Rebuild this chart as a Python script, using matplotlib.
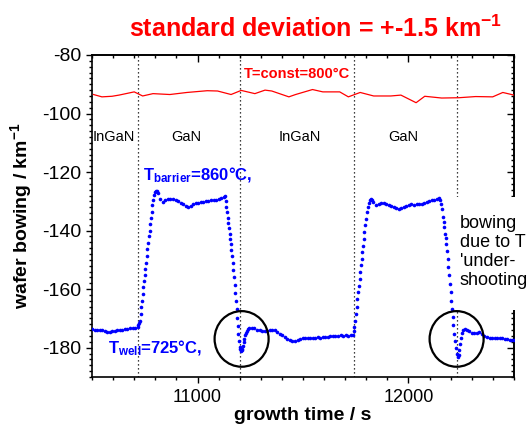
import matplotlib
matplotlib.use("Agg")

import matplotlib.pyplot as plt
import numpy as np
from matplotlib.patches import Ellipse, Rectangle
from matplotlib.ticker import MultipleLocator, NullFormatter

plt.rcParams["font.family"] = ["Liberation Sans", "DejaVu Sans"]
plt.rcParams["axes.unicode_minus"] = False
plt.rcParams["mathtext.fontset"] = "custom"
plt.rcParams["mathtext.rm"] = "Liberation Sans"
plt.rcParams["mathtext.bf"] = "Liberation Sans:bold"
plt.rcParams["mathtext.it"] = "Liberation Sans:italic"

BLUE = "#0000ff"
RED = "#ff0000"
XLIM = (10500, 12500)
YLIM = (-190, -80)

# constant temperature run (red)
RED_T = [10507, 10547, 10595, 10628, 10700, 10740, 10789, 10869, 10950, 11046,
         11095, 11159, 11207, 11272, 11320, 11352, 11433, 11465, 11545, 11594,
         11674, 11715, 11771, 11835, 11916, 11964, 12036, 12077, 12157, 12238,
         12318, 12399, 12447, 12500]
RED_V = [-93.5, -94.3, -94.1, -93.7, -92.6, -94.0, -93.2, -93.5, -92.8, -92.2,
         -92.3, -93.5, -92.1, -93.2, -92.0, -92.3, -94.3, -93.5, -91.8, -92.6,
         -92.6, -94.3, -92.8, -94.0, -94.0, -93.7, -96.3, -94.1, -94.7, -94.6,
         -94.2, -94.3, -92.8, -93.7]

# temperature switched run (blue), read segment by segment
WELL_1 = [(10500, -173.7), (10512, -173.8), (10524, -173.9), (10536, -174.0), (10548, -174.1),
          (10560, -174.3), (10572, -174.5), (10584, -174.6), (10596, -174.4), (10608, -174.3),
          (10620, -174.1), (10632, -173.9), (10644, -173.8), (10656, -173.6), (10668, -173.5),
          (10680, -173.4), (10692, -173.3), (10704, -173.1)]
RISE_1 = [(10716, -172.9), (10720, -172.3), (10724, -171.4), (10727, -170.8), (10731, -168.5),
          (10734, -166.2), (10737, -163.9), (10740, -161.6), (10743, -159.3), (10746, -157.1),
          (10750, -155.2), (10753, -153.1), (10756, -150.9), (10760, -148.5), (10763, -146.3),
          (10766, -144.1), (10770, -142.0), (10773, -140.2), (10776, -137.9), (10779, -135.6),
          (10782, -133.5), (10786, -131.3), (10790, -129.4), (10794, -127.8), (10798, -126.9),
          (10802, -126.5), (10806, -126.6)]
BARRIER_1 = [(10812, -127.3), (10824, -129.2), (10836, -130.1), (10848, -129.5), (10860, -129.1),
             (10872, -129.2), (10884, -129.1), (10896, -129.4), (10908, -129.8), (10920, -130.4),
             (10932, -131.0), (10944, -131.6), (10956, -131.9), (10968, -131.5), (10980, -131.0),
             (10992, -130.7), (11004, -130.4), (11016, -130.2), (11028, -130.1), (11040, -129.9),
             (11052, -129.8), (11064, -129.7), (11076, -129.6), (11088, -129.5), (11100, -129.3),
             (11112, -129.0), (11124, -128.4)]
FALL_1 = [(11130, -128.0), (11134, -130.0), (11137, -131.9), (11140, -133.8), (11143, -135.8),
          (11146, -137.5), (11149, -139.2), (11152, -141.0), (11155, -142.8), (11158, -144.6),
          (11161, -146.6), (11164, -148.8), (11167, -151.2), (11170, -153.6), (11173, -156.0),
          (11176, -158.5), (11179, -161.3), (11182, -164.0), (11185, -166.9), (11188, -169.8),
          (11191, -172.6), (11194, -175.3), (11197, -177.8), (11200, -179.6), (11203, -180.6),
          (11206, -181.0), (11209, -180.9), (11212, -180.3), (11215, -179.3), (11218, -178.1),
          (11221, -176.9), (11225, -175.7), (11229, -174.9), (11234, -174.2), (11240, -173.7)]
WELL_2 = [(11246, -173.2), (11258, -173.1), (11270, -173.4), (11282, -173.8), (11294, -174.1),
          (11306, -174.2), (11318, -174.3), (11330, -174.3), (11342, -174.1), (11354, -173.9),
          (11366, -174.1), (11378, -174.6), (11390, -175.2), (11402, -175.8), (11414, -176.4),
          (11426, -176.9), (11438, -177.4), (11450, -177.8), (11462, -177.6), (11474, -177.2),
          (11486, -177.0), (11498, -176.8), (11510, -176.7), (11522, -176.8), (11534, -176.6),
          (11546, -176.7), (11558, -176.6), (11570, -176.5), (11582, -176.6), (11594, -176.4),
          (11606, -176.3), (11618, -176.2), (11630, -176.0), (11642, -175.9), (11654, -176.0),
          (11666, -175.9), (11678, -175.8), (11690, -175.9), (11702, -175.8), (11714, -175.9),
          (11726, -175.8), (11736, -175.6)]
RISE_2 = [(11740, -174.2), (11743, -173.0), (11746, -170.8), (11750, -168.5), (11754, -166.2),
          (11758, -163.3), (11762, -161.0), (11765, -158.8), (11768, -156.5), (11772, -154.2),
          (11775, -151.9), (11778, -149.6), (11781, -147.4), (11784, -145.1), (11788, -142.8),
          (11791, -140.5), (11794, -138.2), (11797, -135.9), (11801, -133.7), (11806, -131.9),
          (11811, -130.4), (11816, -129.6), (11821, -129.3), (11826, -129.5)]
BARRIER_2 = [(11834, -130.3), (11846, -131.2), (11858, -131.0), (11870, -130.7), (11882, -130.6),
             (11894, -130.9), (11906, -131.3), (11918, -131.5), (11930, -131.8), (11942, -132.2),
             (11954, -132.5), (11966, -132.3), (11978, -131.9), (11990, -131.5), (12002, -131.1),
             (12014, -131.0), (12026, -131.1), (12038, -131.0), (12050, -131.0), (12062, -130.8),
             (12074, -130.5), (12086, -130.2), (12098, -129.9), (12110, -129.7), (12122, -129.4),
             (12134, -129.2), (12146, -128.8)]
FALL_2 = [(12150, -129.5), (12153, -131.0), (12157, -132.5), (12162, -135.4), (12166, -137.0),
          (12169, -138.8), (12173, -141.1), (12176, -142.6), (12179, -144.5), (12182, -146.8),
          (12186, -149.6), (12189, -152.5), (12193, -155.3), (12197, -158.2), (12200, -161.0),
          (12203, -163.9), (12206, -166.7), (12209, -169.6), (12213, -172.4), (12217, -175.2),
          (12221, -177.8), (12225, -180.2), (12229, -182.2), (12233, -183.2), (12237, -182.6),
          (12241, -180.8), (12245, -178.6), (12249, -176.6), (12254, -175.0), (12260, -174.0),
          (12268, -173.6)]
WELL_3 = [(12276, -173.8), (12288, -174.2), (12300, -174.9), (12312, -175.1), (12324, -174.9),
          (12336, -174.8), (12348, -175.3), (12360, -176.0), (12372, -176.4), (12384, -176.6),
          (12396, -176.6), (12408, -176.7), (12420, -176.6), (12432, -176.7), (12444, -176.8),
          (12456, -176.9), (12468, -177.0), (12480, -177.2), (12492, -177.4), (12500, -177.4)]
BLUE_SEGMENTS = [WELL_1, RISE_1, BARRIER_1, FALL_1, WELL_2, RISE_2, BARRIER_2, FALL_2, WELL_3]

SWITCH_TIMES = [10716, 11201, 11743, 12231]
LAYER_LABELS = [("InGaN", 10505, "left"), ("GaN", 10945, "center"),
                ("InGaN", 11486, "center"), ("GaN", 11974, "center")]
UNDERSHOOT_CENTERS = [(11209, -177.0), (12228, -177.0)]


def style_ticks(axis, labels=True):
    axis.set_major_locator(MultipleLocator(1000 if axis.axis_name == "x" else 20))
    axis.set_minor_locator(MultipleLocator(100 if axis.axis_name == "x" else 2))
    if not labels:
        axis.set_major_formatter(NullFormatter())


def main():
    fig = plt.figure(figsize=(5.30, 4.28), dpi=100)
    ax = fig.add_axes([0.1736, 0.1192, 0.7962, 0.7523])

    for t in SWITCH_TIMES:
        ax.axvline(t, color="black", lw=0.9, ls=(0, (1, 2.2)), zorder=1)

    ax.plot(RED_T, RED_V, color=RED, lw=0.9, zorder=3)

    blue = np.array([p for seg in BLUE_SEGMENTS for p in seg])
    ax.plot(blue[:, 0], blue[:, 1], "o", color=BLUE, ms=2.6, mec="none", zorder=4)

    for cx, cy in UNDERSHOOT_CENTERS:
        ax.add_patch(Ellipse((cx, cy), 256, 19.0, fill=False, ec="black", lw=1.6, zorder=5))

    for label, x, ha in LAYER_LABELS:
        ax.text(x, -109.5, label, ha=ha, va="baseline", fontsize=10.5)

    ax.text(11218, -87.7, "T=const=800°C", color=RED, fontsize=10.5,
            fontweight="bold", va="baseline")
    ax.text(10742, -122.8, r"T$_{\mathbf{barrier}}$=860°C,", color=BLUE, fontsize=12,
            fontweight="bold", va="baseline")
    ax.text(10576, -182.0, r"T$_{\mathbf{well}}$=725°C,", color=BLUE, fontsize=12,
            fontweight="bold", va="baseline")

    ax.set_xlim(*XLIM)
    ax.set_ylim(*YLIM)
    style_ticks(ax.xaxis)
    style_ticks(ax.yaxis)
    ax.tick_params(which="both", direction="out", width=1.0)
    ax.tick_params(which="major", length=4.5)
    ax.tick_params(which="minor", length=2.5)
    ax.tick_params(axis="x", labelsize=13, pad=4)
    ax.tick_params(axis="y", labelsize=14, pad=3)

    # inward ticks on the top and right frame
    top = ax.secondary_xaxis("top")
    right = ax.secondary_yaxis("right")
    style_ticks(top.xaxis, labels=False)
    style_ticks(right.yaxis, labels=False)
    for sec in (top, right):
        sec.tick_params(which="both", direction="in", width=1.0)
        sec.tick_params(which="major", length=5)
        sec.tick_params(which="minor", length=2.5)
        for spine in sec.spines.values():
            spine.set_linewidth(1.2)
    for spine in ax.spines.values():
        spine.set_linewidth(1.2)

    ax.set_xlabel("growth time / s", fontsize=14, fontweight="bold", labelpad=1)
    ax.set_ylabel(r"wafer bowing / km$^{\mathbf{-1}}$", fontsize=14, fontweight="bold",
                  labelpad=6)

    fig.text(0.596, 0.932, r"standard deviation = +-1.5 km$^{\mathbf{-1}}$", color=RED,
             fontsize=18, fontweight="bold", ha="center", va="center")

    # white box behind the note, hides the dotted line and part of the right frame
    fig.patches.append(Rectangle((455 / 530, 1 - 310 / 428), 75 / 530, 113 / 428,
                                 transform=fig.transFigure, fc="white", ec="none", zorder=5))
    fig.text(460 / 530, 1 - 215 / 428, "bowing\ndue to T\n'under-\nshooting", fontsize=13,
             ha="left", va="top", linespacing=1.15, zorder=6)

    fig.savefig("out.png", dpi=100)


if __name__ == "__main__":
    main()
